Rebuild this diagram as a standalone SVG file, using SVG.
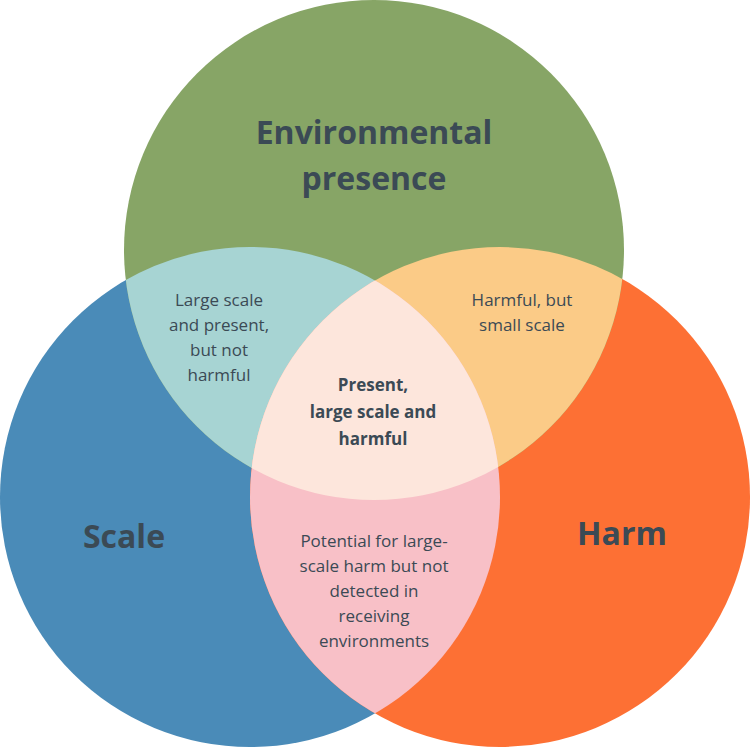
<svg xmlns="http://www.w3.org/2000/svg" width="750" height="750" viewBox="0 0 750 750">
<style>
text{font-family:"Open Sans","Noto Sans",sans-serif;fill:#3b4a55;text-anchor:middle}
.big{font-size:32px;font-weight:bold}
.sm{font-size:17px}
.b{font-weight:bold}
</style>
<defs>
<clipPath id="cE"><circle cx="374" cy="250" r="250"/></clipPath>
<clipPath id="cS"><circle cx="250" cy="497" r="250"/></clipPath>
<clipPath id="cH"><circle cx="500" cy="497" r="250"/></clipPath>
</defs>
<rect width="750" height="750" fill="#fff"/>
<g id="scale"><circle cx="250" cy="497" r="250" fill="#4a8bb8"/></g>
<g id="harm"><circle cx="500" cy="497" r="250" fill="#fd7034"/></g>
<g id="environmental"><circle cx="374" cy="250" r="250" fill="#87a566"/></g>
<g id="scale-env" clip-path="url(#cE)"><circle cx="250" cy="497" r="250" fill="#a7d4d3"/></g>
<g id="harm-env" clip-path="url(#cE)"><circle cx="500" cy="497" r="250" fill="#fbcb87"/></g>
<g id="scale-harm" clip-path="url(#cS)"><circle cx="500" cy="497" r="250" fill="#f8c0c7"/></g>
<g id="center" clip-path="url(#cS)"><g clip-path="url(#cH)"><circle cx="374" cy="250" r="250" fill="#fde6dc"/></g></g>
<g id="labels">
<text class="big" x="374" y="144">Environmental</text>
<text class="big" x="374" y="190">presence</text>
<text class="big" x="124" y="548">Scale</text>
<text class="big" x="622" y="545">Harm</text>
<text class="sm" x="219" y="306">Large scale</text>
<text class="sm" x="219" y="331">and present,</text>
<text class="sm" x="219" y="356">but not</text>
<text class="sm" x="219" y="381">harmful</text>
<text class="sm" x="522" y="306">Harmful, but</text>
<text class="sm" x="522" y="331">small scale</text>
<text class="sm b" x="373" y="391">Present,</text>
<text class="sm b" x="373" y="418">large scale and</text>
<text class="sm b" x="373" y="445">harmful</text>
<text class="sm" x="374" y="547">Potential for large-</text>
<text class="sm" x="374" y="572">scale harm but not</text>
<text class="sm" x="374" y="597">detected in</text>
<text class="sm" x="374" y="622">receiving</text>
<text class="sm" x="374" y="647">environments</text>
</g>
<g id="connectors"/>
</svg>
